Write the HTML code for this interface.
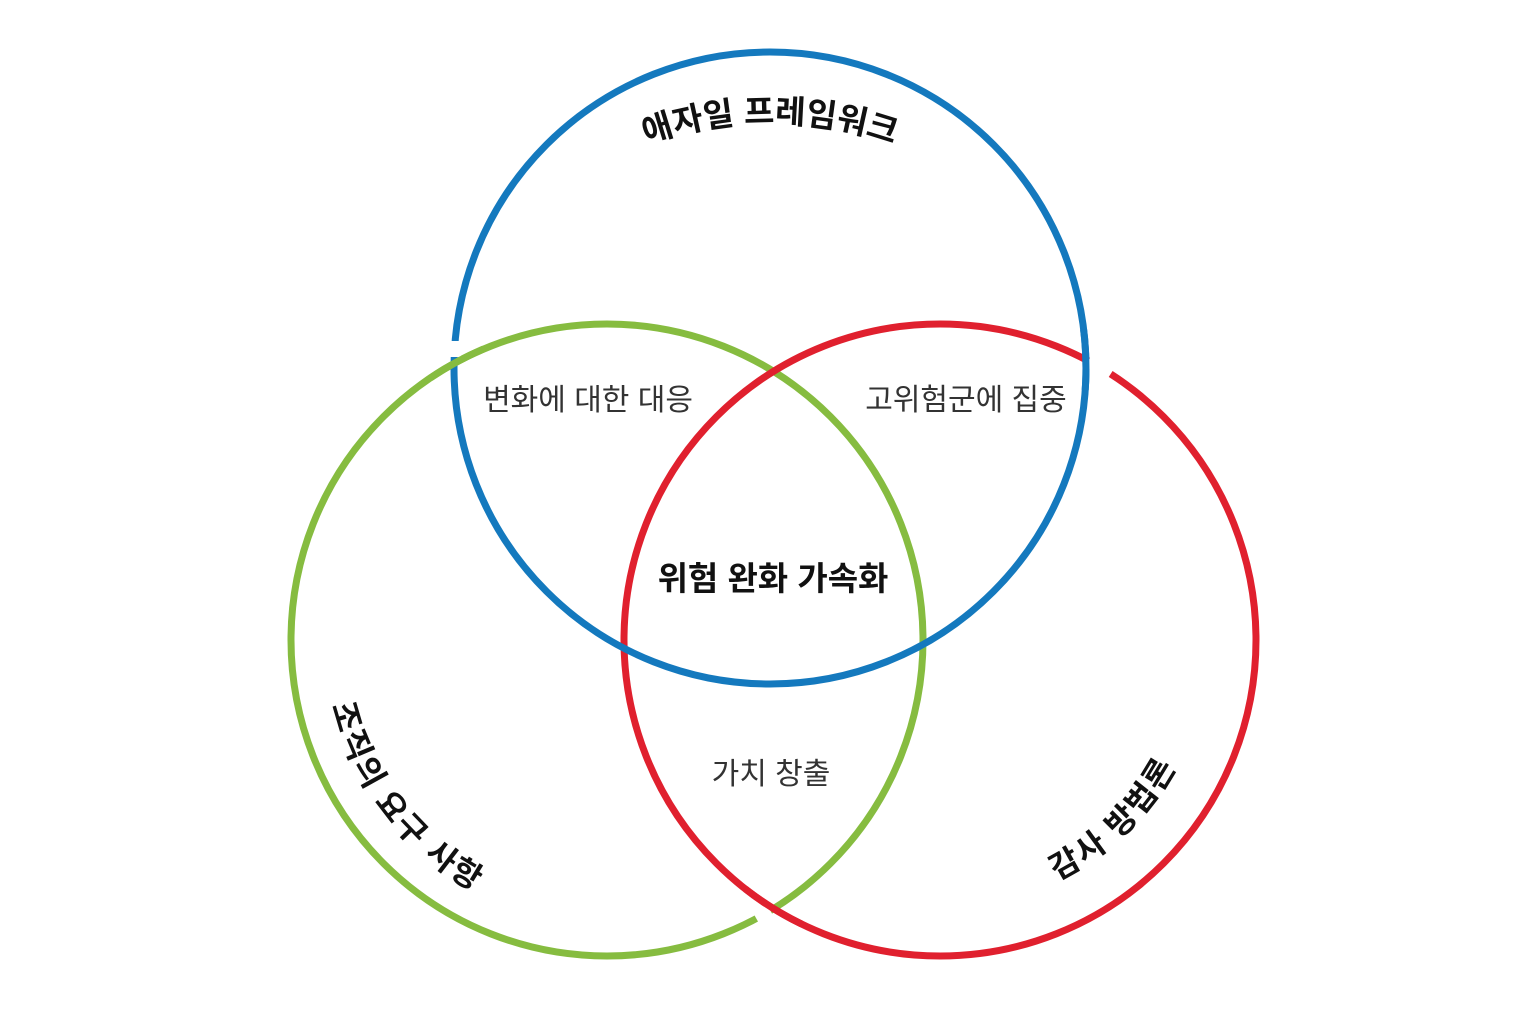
<!DOCTYPE html>
<html><head><meta charset="utf-8"><style>
html,body{margin:0;padding:0;background:#fff;}
svg{display:block;}
text{font-family:"Liberation Sans","Noto Sans CJK KR","NanumGothic",sans-serif;}
</style></head><body>
<svg width="1536" height="1024" viewBox="0 0 1536 1024" xmlns="http://www.w3.org/2000/svg">
<defs>
<path id="tp" d="M 520 220 A 370 370 0 0 1 1020 220"/>
<path id="gp" d="M 329 589 A 285 285 0 0 0 607 925"/>
<path id="rp" d="M 912 906 A 268 268 0 0 0 1207 621"/>
</defs>
<circle cx="607" cy="640" r="316" fill="none" stroke="#86BC40" stroke-width="7"/>
<circle cx="940" cy="640" r="316" fill="none" stroke="#E0202E" stroke-width="7"/>
<circle cx="770" cy="368" r="316" fill="none" stroke="#1479BE" stroke-width="7"/>
<line x1="1088" y1="361" x2="1110" y2="375" stroke="#fff" stroke-width="12"/>
<line x1="455" y1="341" x2="455" y2="357" stroke="#fff" stroke-width="12"/>
<line x1="756" y1="918" x2="770" y2="910" stroke="#fff" stroke-width="12"/>
<path d="M 430.3 378 A 316 316 0 0 1 483.5 349" fill="none" stroke="#86BC40" stroke-width="7"/>
<path d="M 1083.6 329.5 A 316 316 0 0 1 1085.2 390" fill="none" stroke="#1479BE" stroke-width="7"/>
<path d="M 801.6 924 A 316 316 0 0 1 745.4 889" fill="none" stroke="#E0202E" stroke-width="7"/>

<text font-size="33" font-weight="bold" fill="#111"><textPath href="#tp" startOffset="50%" text-anchor="middle">애자일 프레임워크</textPath></text>
<text font-size="32" font-weight="bold" fill="#111" letter-spacing="2"><textPath href="#gp" startOffset="48%" text-anchor="middle">조직의 요구 사항</textPath></text>
<text font-size="32" font-weight="bold" fill="#111" letter-spacing="2"><textPath href="#rp" startOffset="50%" text-anchor="middle">감사 방법론</textPath></text>

<text x="588" y="410" font-size="30" fill="#333" text-anchor="middle">변화에 대한 대응</text>
<text x="966" y="410" font-size="30" fill="#333" text-anchor="middle">고위험군에 집중</text>
<text x="773" y="590" font-size="33" font-weight="bold" fill="#111" text-anchor="middle">위험 완화 가속화</text>
<text x="771" y="784" font-size="30" fill="#333" text-anchor="middle">가치 창출</text>
</svg>
</body></html>
